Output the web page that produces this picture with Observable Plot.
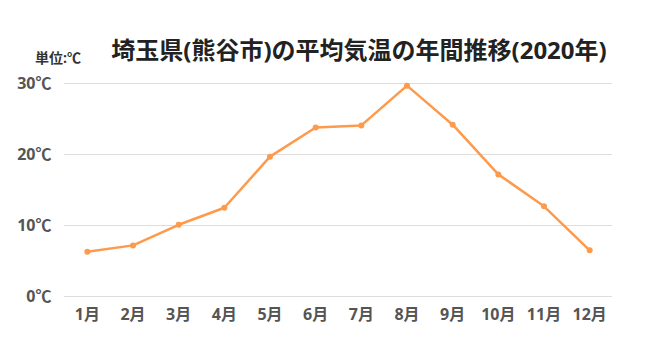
<!DOCTYPE html>
<html><head><meta charset="utf-8">
<script src="https://cdn.jsdelivr.net/npm/d3@7"></script>
<script src="https://cdn.jsdelivr.net/npm/@observablehq/plot@0.6"></script>
<style>
body{margin:0;background:#fff;font-family:"Open Sans","Noto Sans CJK JP",sans-serif;}
#wrap{position:relative;width:650px;height:351px;overflow:hidden;}
#head{position:relative;height:70px;}
#title{position:absolute;left:0;width:718px;top:35px;text-align:center;font-size:24px;font-weight:700;color:#222;line-height:30px;}
#unit{position:absolute;left:35px;top:47px;font-size:14px;font-weight:700;color:#333;}
</style></head>
<body><div id="wrap"><div id="head"><div id="title"></div><div id="unit"></div></div><div id="chart"></div></div>
<script>
const titleText = "埼玉県(熊谷市)の平均気温の年間推移(2020年)";
const unitText = "単位:℃";
const months = ["1月","2月","3月","4月","5月","6月","7月","8月","9月","10月","11月","12月"];
const temps = [6.3, 7.2, 10.1, 12.5, 19.7, 23.8, 24.1, 29.7, 24.2, 17.2, 12.7, 6.5];
const yTicks = [0, 10, 20, 30];

document.getElementById("title").textContent = titleText;
document.getElementById("unit").textContent = unitText;
const data = months.map((m, i) => ({month: m, temp: temps[i]}));

const chart = Plot.plot({
  width: 650, height: 281,
  marginTop: 13, marginBottom: 55, marginLeft: 64, marginRight: 38,
  style: {fontFamily: '"Open Sans","Noto Sans CJK JP",sans-serif', fontSize: "16px", fontWeight: 700, color: "#555", background: "#fff"},
  x: {type: "point", domain: months, padding: 0.5, round: false, label: null},
  y: {domain: [0, 30], label: null},
  marks: [
    Plot.gridY(yTicks, {stroke: "#ddd", strokeOpacity: 1, strokeWidth: 1}),
    Plot.axisY(yTicks, {tickSize: 0, tickPadding: 13, tickFormat: d => d + "℃", fill: "#555", fontSize: 16, fontWeight: 700}),
    Plot.axisX(months, {tickSize: 0, tickPadding: 12, fill: "#555", fontSize: 16, fontWeight: 700}),
    Plot.line(data, {x: "month", y: "temp", stroke: "#fd9a4c", strokeWidth: 2.5}),
    Plot.dot(data, {x: "month", y: "temp", fill: "#fd9a4c", r: 3})
  ]
});
document.getElementById("chart").appendChild(chart);
</script></body></html>
